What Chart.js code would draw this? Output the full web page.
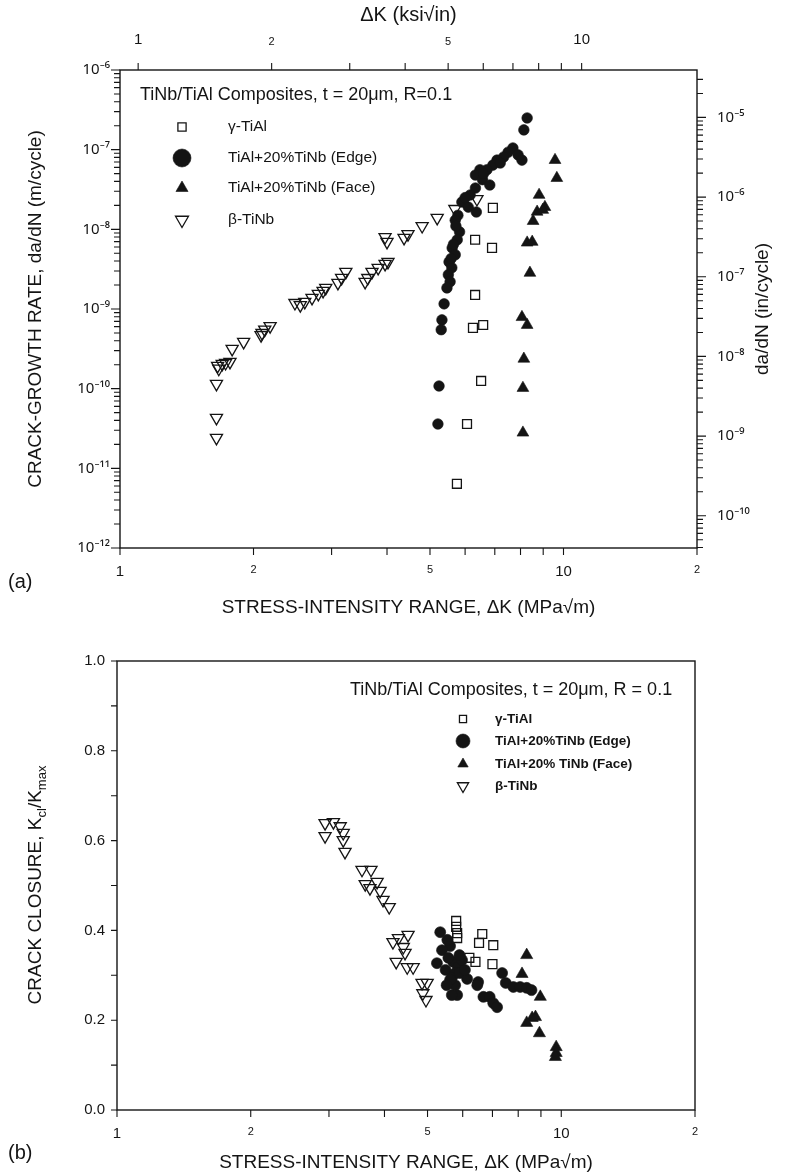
<!DOCTYPE html>
<html>
<head>
<meta charset="utf-8">
<title>TiNb/TiAl composites - crack growth and closure</title>
<script src="https://cdn.jsdelivr.net/npm/chart.js@4.4.1/dist/chart.umd.min.js"></script>
<style>
  body { margin: 0; background: #fff; }
  canvas { position: absolute; left: 0; }
</style>
</head>
<body>
<canvas id="rateChart" width="785" height="640" style="top:0"></canvas>
<canvas id="closureChart" width="785" height="536" style="top:640px"></canvas>
<script>
const INK = '#141414';
const FONT = "'Liberation Sans', Arial, sans-serif";
const SUP_FONT = "'Noto Sans', 'DejaVu Sans', sans-serif";
const KSI_TO_MPA = 1.0988;
const M_TO_IN = 1 / 0.0254;

// axis ticks
const kTicks = [1, 2, 3, 4, 5, 6, 7, 8, 9, 10, 20];
const kLabels = { 1: '1', 2: '2', 5: '5', 10: '10', 20: '2' };
const ksiTicks = [1, 2, 3, 4, 5, 6, 7, 8, 9, 10];
const ksiLabels = { 1: '1', 2: '2', 5: '5', 10: '10' };
const rateDecades = [-12, -11, -10, -9, -8, -7, -6];
const inchDecades = [-11, -10, -9, -8, -7, -6, -5];
const closureTicks = [0, 0.1, 0.2, 0.3, 0.4, 0.5, 0.6, 0.7, 0.8, 0.9, 1.0];
const closureLabels = ['0.0', '', '0.2', '', '0.4', '', '0.6', '', '0.8', '', '1.0'];

// (a) crack-growth rate, da/dN (m/cycle) vs dK (MPa sqrt m)
const tiAlK_a = [6.93, 6.32, 6.90, 6.32, 6.25, 6.59, 6.52, 6.06, 5.75];
const tiAlRate_a = [1.86e-8, 7.4e-9, 5.85e-9, 1.5e-9, 5.8e-10, 6.3e-10, 1.25e-10, 3.6e-11, 6.4e-12];

const edgeK_a = [8.28, 8.14, 7.69, 7.90, 8.06, 7.50, 7.33, 7.08, 6.93, 6.72, 6.48, 6.33, 6.57, 6.82, 6.33,
  6.16, 5.90, 6.10, 6.36, 5.78, 5.70, 5.83, 5.76, 5.61, 5.70, 5.52, 5.60, 5.50, 5.55, 5.46, 5.38, 5.32,
  5.30, 5.24, 5.21, 7.20, 6.60, 6.00, 5.65, 5.58, 5.72];
const edgeRate_a = [2.5e-7, 1.77e-7, 1.05e-7, 8.6e-8, 7.4e-8, 9.3e-8, 8.1e-8, 7.4e-8, 6.4e-8, 5.6e-8, 5.6e-8,
  4.8e-8, 4.2e-8, 3.6e-8, 3.3e-8, 2.7e-8, 2.2e-8, 1.9e-8, 1.65e-8, 1.5e-8, 1.3e-8, 9.3e-9, 7.4e-9, 5.85e-9,
  4.8e-9, 3.9e-9, 3.3e-9, 2.7e-9, 2.2e-9, 1.84e-9, 1.16e-9, 7.3e-10, 5.5e-10, 1.08e-10, 3.6e-11,
  6.8e-8, 5.0e-8, 2.5e-8, 6.5e-9, 4.3e-9, 1.1e-8];

const faceK_a = [9.57, 9.66, 8.81, 9.08, 8.72, 8.98, 8.54, 8.28, 8.50, 8.40, 8.06, 8.28, 8.14, 8.10, 8.10];
const faceRate_a = [7.4e-8, 4.4e-8, 2.7e-8, 1.9e-8, 1.66e-8, 1.75e-8, 1.27e-8, 6.8e-9, 6.95e-9, 2.84e-9,
  7.9e-10, 6.3e-10, 2.37e-10, 1.02e-10, 2.8e-11];

const tinbK_a = [1.65, 1.65, 1.65, 1.66, 1.70, 1.73, 1.67, 1.77, 1.79, 1.90, 2.08, 2.12, 2.18, 2.09, 2.48,
  2.55, 2.61, 2.71, 2.80, 2.87, 2.91, 3.10, 3.16, 3.23, 3.57, 3.62, 3.70, 3.82, 3.96, 4.02, 3.96, 4.00,
  4.37, 4.46, 4.80, 5.19, 5.69, 6.38];
const tinbRate_a = [2.41e-11, 4.3e-11, 1.15e-10, 1.93e-10, 2.05e-10, 2.1e-10, 1.78e-10, 2.17e-10, 3.16e-10,
  3.86e-10, 4.7e-10, 5.5e-10, 6.1e-10, 5.0e-10, 1.19e-9, 1.12e-9, 1.23e-9, 1.38e-9, 1.55e-9, 1.69e-9,
  1.84e-9, 2.13e-9, 2.46e-9, 2.92e-9, 2.19e-9, 2.45e-9, 2.92e-9, 3.28e-9, 3.68e-9, 3.9e-9, 8.0e-9, 6.95e-9,
  7.8e-9, 8.7e-9, 1.1e-8, 1.39e-8, 1.8e-8, 2.4e-8];

// (b) crack closure, Kcl/Kmax vs dK (MPa sqrt m)
const tiAlK_b = [5.80, 5.80, 5.83, 5.83, 6.64, 6.53, 7.03, 6.21, 6.41, 7.00];
const tiAlClosure_b = [0.421, 0.408, 0.394, 0.383, 0.392, 0.372, 0.367, 0.339, 0.330, 0.325];

const edgeK_b = [5.34, 5.62, 5.39, 5.25, 5.49, 5.71, 5.86, 5.77, 5.67, 5.91, 5.77, 5.83, 5.67, 6.14, 6.50,
  6.47, 6.68, 6.90, 7.03, 7.17, 7.36, 7.50, 7.80, 8.08, 8.36, 8.57, 5.57, 5.98, 5.62, 6.07, 5.90, 5.54, 5.52];
const edgeClosure_b = [0.396, 0.365, 0.356, 0.327, 0.312, 0.330, 0.318, 0.305, 0.294, 0.305, 0.278, 0.256,
  0.256, 0.292, 0.285, 0.278, 0.252, 0.252, 0.238, 0.229, 0.305, 0.283, 0.274, 0.274, 0.272, 0.267,
  0.339, 0.334, 0.290, 0.312, 0.345, 0.379, 0.278];

const faceK_b = [8.36, 8.16, 8.97, 8.60, 8.36, 8.75, 8.93, 9.74, 9.74, 9.70];
const faceClosure_b = [0.345, 0.303, 0.252, 0.205, 0.194, 0.207, 0.171, 0.140, 0.127, 0.118];

const tinbK_b = [2.94, 2.94, 3.07, 3.18, 3.23, 3.23, 3.26, 3.56, 3.73, 3.62, 3.71, 3.85, 3.91, 3.97, 4.10,
  4.18, 4.30, 4.52, 4.41, 4.45, 4.25, 4.50, 4.64, 4.86, 4.99, 4.88, 4.96];
const tinbClosure_b = [0.639, 0.610, 0.641, 0.632, 0.617, 0.601, 0.575, 0.535, 0.535, 0.503, 0.494, 0.508,
  0.488, 0.468, 0.452, 0.374, 0.383, 0.390, 0.363, 0.350, 0.330, 0.318, 0.318, 0.283, 0.283, 0.260, 0.245];

const SUP = { '-': '⁻', '0': '⁰', '1': '¹', '2': '²', '3': '³', '4': '⁴', '5': '⁵', '6': '⁶', '7': '⁷', '8': '⁸', '9': '⁹' };
const sup = n => String(n).split('').map(c => SUP[c]).join('');
const pts = (xs, ys) => xs.map((x, i) => ({ x, y: ys[i] }));

function logTicks(decades, min, max) {
  const out = [];
  decades.forEach(e => {
    for (let m = 1; m < 10; m++) {
      const v = m * Math.pow(10, e);
      if (v >= min * 0.999 && v <= max * 1.001) out.push({ value: v, major: m === 1 });
    }
  });
  return out;
}
const decadeLabel = (v, i, ticks) => ticks[i].major ? '10' + sup(Math.round(Math.log10(v))) : '';
const kFont = c => ({ family: FONT, size: c.tick && [2, 5, 20].includes(c.tick.value) ? 11 : 15 });

const open = { borderColor: INK, backgroundColor: 'rgba(0,0,0,0)', pointBorderWidth: 1.3 };
const solid = { borderColor: INK, backgroundColor: INK, pointBorderWidth: 0.6 };

// outward tick marks + frame, drawn through each scale
const tickMarks = lens => ({
  id: 'tickMarks',
  afterDraw(chart) {
    const { ctx, chartArea: a } = chart;
    ctx.save();
    ctx.strokeStyle = INK;
    ctx.lineWidth = 1.4;
    ctx.strokeRect(a.left, a.top, a.right - a.left, a.bottom - a.top);
    ctx.lineWidth = 1.1;
    Object.values(chart.scales).forEach(s => {
      const len = lens[s.id];
      if (!len) return;
      ctx.beginPath();
      s.ticks.forEach(t => {
        const p = s.getPixelForValue(t.value);
        const l = t.major ? len[0] : len[1];
        if (s.position === 'left') { ctx.moveTo(a.left, p); ctx.lineTo(a.left - l, p); }
        else if (s.position === 'right') { ctx.moveTo(a.right, p); ctx.lineTo(a.right + l, p); }
        else if (s.position === 'top') { ctx.moveTo(p, a.top); ctx.lineTo(p, a.top - l); }
        else { ctx.moveTo(p, a.bottom); ctx.lineTo(p, a.bottom + l); }
      });
      ctx.stroke();
    });
    ctx.restore();
  }
});

// legend box inside the plot, with a heading line
const insetLegend = cfg => ({
  id: 'insetLegend',
  afterDatasetsDraw(chart) {
    const ctx = chart.ctx;
    ctx.save();
    ctx.textBaseline = 'middle';
    ctx.textAlign = 'left';
    ctx.fillStyle = INK;
    ctx.font = `${cfg.titleSize}px ${FONT}`;
    ctx.fillText(cfg.title, cfg.titleX, cfg.titleY);
    chart.data.datasets.forEach((ds, i) => {
      const y = cfg.rows[i];
      ctx.fillStyle = ds.backgroundColor;
      ctx.strokeStyle = ds.borderColor;
      ctx.lineWidth = ds.pointBorderWidth;
      Chart.helpers.drawPoint(ctx, {
        pointStyle: ds.pointStyle, rotation: ds.pointRotation || 0,
        radius: cfg.radii[i], borderWidth: ds.pointBorderWidth
      }, cfg.markerX, y);
      ctx.fillStyle = INK;
      ctx.font = `${cfg.bold ? 'bold ' : ''}${cfg.size}px ${FONT}`;
      ctx.fillText(cfg.labels[i], cfg.textX, y);
    });
    ctx.restore();
  }
});

// free text: panel letters, right-hand title, subscripted title
const notes = items => ({
  id: 'notes',
  afterDraw(chart) {
    const ctx = chart.ctx;
    items.forEach(it => {
      ctx.save();
      ctx.translate(it.x, it.y);
      if (it.rotate) ctx.rotate(it.rotate);
      ctx.fillStyle = INK;
      ctx.textBaseline = 'middle';
      ctx.textAlign = 'left';
      const parts = it.parts.map(p => typeof p === 'string' ? { t: p } : p);
      const fontOf = p => `${Math.round(it.size * (p.sub ? 0.68 : 1))}px ${FONT}`;
      let w = 0;
      parts.forEach(p => { ctx.font = fontOf(p); w += ctx.measureText(p.t).width; });
      let x = it.align === 'left' ? 0 : -w / 2;
      parts.forEach(p => {
        ctx.font = fontOf(p);
        ctx.fillText(p.t, x, p.sub ? it.size * 0.32 : 0);
        x += ctx.measureText(p.t).width;
      });
      ctx.restore();
    });
  }
});

const axisText = { color: INK, font: { family: FONT, size: 15 }, autoSkip: false, maxRotation: 0 };
const decadeText = { ...axisText, font: { family: SUP_FONT, size: 15 } };
const bare = { grid: { display: false, drawTicks: false }, border: { display: false } };
const kAxis = (height, titlePad) => ({
  type: 'logarithmic', position: 'bottom', min: 1, max: 20, ...bare,
  afterBuildTicks: s => { s.ticks = kTicks.map(v => ({ value: v })); },
  afterFit: s => { s.height = height; },
  ticks: { ...axisText, padding: 15, font: kFont, callback: v => kLabels[v] || '' },
  title: { display: true, text: 'STRESS-INTENSITY RANGE, ΔK (MPa√m)', color: INK,
           font: { family: FONT, size: 19 }, padding: { top: 0, bottom: titlePad } }
});
const common = {
  responsive: false, animation: false, events: [],
  plugins: { legend: { display: false }, tooltip: { enabled: false } }
};

new Chart(document.getElementById('rateChart'), {
  type: 'scatter',
  data: {
    datasets: [
      { label: 'γ-TiAl', data: pts(tiAlK_a, tiAlRate_a), pointStyle: 'rect', pointRadius: 6.3, ...open },
      { label: 'TiAl+20%TiNb (Edge)', data: pts(edgeK_a, edgeRate_a), pointStyle: 'circle', pointRadius: 5.3, ...solid },
      { label: 'TiAl+20%TiNb (Face)', data: pts(faceK_a, faceRate_a), pointStyle: 'triangle', pointRadius: 6.8, ...solid },
      { label: 'β-TiNb', data: pts(tinbK_a, tinbRate_a), pointStyle: 'triangle', pointRotation: 180, pointRadius: 7, ...open }
    ]
  },
  options: {
    ...common,
    layout: { padding: 0 },
    scales: {
      x: kAxis(92, 21),
      x2: {
        type: 'logarithmic', position: 'top', min: 1 / KSI_TO_MPA, max: 20 / KSI_TO_MPA, ...bare,
        afterBuildTicks: s => { s.ticks = ksiTicks.map(v => ({ value: v })); },
        afterFit: s => { s.height = 70; },
        ticks: { ...axisText, padding: 21, font: kFont, callback: v => ksiLabels[v] || '' },
        title: { display: true, text: 'ΔK (ksi√in)', color: INK, font: { family: FONT, size: 20 }, padding: { top: 3, bottom: 0 } }
      },
      y: {
        type: 'logarithmic', position: 'left', min: 1e-12, max: 1e-6, ...bare,
        afterBuildTicks: s => { s.ticks = logTicks(rateDecades, 1e-12, 1e-6); },
        afterFit: s => { s.width = 120; },
        ticks: { ...decadeText, padding: 10, callback: decadeLabel },
        title: { display: true, text: 'CRACK-GROWTH RATE, da/dN (m/cycle)', color: INK,
                 font: { family: FONT, size: 19 }, padding: { top: 24, bottom: 0 } }
      },
      y2: {
        type: 'logarithmic', position: 'right', min: 1e-12 * M_TO_IN, max: 1e-6 * M_TO_IN, ...bare,
        afterBuildTicks: s => { s.ticks = logTicks(inchDecades, s.min, s.max); },
        afterFit: s => { s.width = 88; },
        ticks: { ...decadeText, padding: 20, callback: decadeLabel }
      }
    }
  },
  plugins: [
    tickMarks({ x: [7, 7], x2: [7, 7], y: [9, 6], y2: [9, 6] }),
    insetLegend({
      title: 'TiNb/TiAl Composites, t = 20μm, R=0.1', titleX: 140, titleY: 95, titleSize: 18,
      labels: ['γ-TiAl', 'TiAl+20%TiNb (Edge)', 'TiAl+20%TiNb (Face)', 'β-TiNb'],
      rows: [127, 158, 188, 220], markerX: 182, textX: 228, size: 15.5, bold: false,
      radii: [5.8, 9, 7, 7.5]
    }),
    notes([
      { parts: ['da/dN (in/cycle)'], x: 763, y: 309, size: 19, rotate: -Math.PI / 2 },
      { parts: ['(a)'], x: 8, y: 582, size: 20, align: 'left' }
    ])
  ]
});

new Chart(document.getElementById('closureChart'), {
  type: 'scatter',
  data: {
    datasets: [
      { label: 'γ-TiAl', data: pts(tiAlK_b, tiAlClosure_b), pointStyle: 'rect', pointRadius: 6.3, ...open },
      { label: 'TiAl+20%TiNb (Edge)', data: pts(edgeK_b, edgeClosure_b), pointStyle: 'circle', pointRadius: 5.5, ...solid },
      { label: 'TiAl+20% TiNb (Face)', data: pts(faceK_b, faceClosure_b), pointStyle: 'triangle', pointRadius: 7, ...solid },
      { label: 'β-TiNb', data: pts(tinbK_b, tinbClosure_b), pointStyle: 'triangle', pointRotation: 180, pointRadius: 7, ...open }
    ]
  },
  options: {
    ...common,
    layout: { padding: { top: 21, right: 90, left: 0, bottom: 0 } },
    scales: {
      x: kAxis(66, 2),
      y: {
        type: 'linear', position: 'left', min: 0, max: 1, ...bare,
        afterBuildTicks: s => { s.ticks = closureTicks.map(v => ({ value: v })); },
        afterFit: s => { s.width = 117; },
        ticks: { ...axisText, padding: 12, callback: (v, i) => closureLabels[i] }
      }
    }
  },
  plugins: [
    tickMarks({ x: [7, 7], y: [6, 6] }),
    insetLegend({
      title: 'TiNb/TiAl Composites, t = 20μm, R = 0.1', titleX: 350, titleY: 50, titleSize: 18,
      labels: ['γ-TiAl', 'TiAl+20%TiNb (Edge)', 'TiAl+20% TiNb (Face)', 'β-TiNb'],
      rows: [79, 101, 124, 146], markerX: 463, textX: 495, size: 13.5, bold: true,
      radii: [5, 7, 6, 6.5]
    }),
    notes([
      { parts: ['CRACK CLOSURE, K', { t: 'cl', sub: true }, '/K', { t: 'max', sub: true }], x: 36, y: 245, size: 19, rotate: -Math.PI / 2 },
      { parts: ['(b)'], x: 8, y: 513, size: 20, align: 'left' }
    ])
  ]
});
</script>
</body>
</html>
